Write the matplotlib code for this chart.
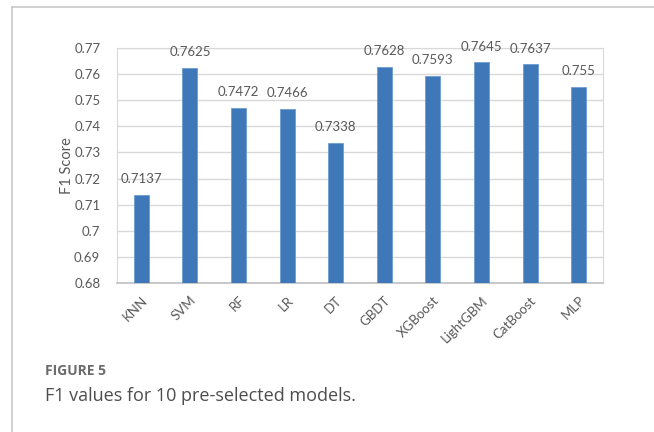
import matplotlib.pyplot as plt
from matplotlib.lines import Line2D
import numpy as np

models = ["KNN", "SVM", "RF", "LR", "DT", "GBDT", "XGBoost", "LightGBM", "CatBoost", "MLP"]
f1_scores = [0.7137, 0.7625, 0.7472, 0.7466, 0.7338, 0.7628, 0.7593, 0.7645, 0.7637, 0.755]
value_labels = ["0.7137", "0.7625", "0.7472", "0.7466", "0.7338", "0.7628", "0.7593", "0.7645", "0.7637", "0.755"]
y_ticks = [0.68, 0.69, 0.7, 0.71, 0.72, 0.73, 0.74, 0.75, 0.76, 0.77]
y_tick_labels = ["0.68", "0.69", "0.7", "0.71", "0.72", "0.73", "0.74", "0.75", "0.76", "0.77"]

plt.rcParams['font.family'] = ['Lato', 'DejaVu Sans']
text_grey = '#595959'

fig = plt.figure(figsize=(6.54, 4.32), dpi=100)
ax = fig.add_axes([117 / 654, 1 - 283 / 432, 486 / 654, 235 / 432])

x = np.arange(len(models))
ax.bar(x, f1_scores, width=0.31, color='#3f78b9', edgecolor='#6e9bd0',
       linewidth=0.6, zorder=3)

for xi, v, lab in zip(x, f1_scores, value_labels):
    ax.annotate(lab, (xi, v), xytext=(0, 7), textcoords='offset points',
                ha='center', va='bottom', fontsize=9.5, color=text_grey)

ax.set_xlim(-0.5, len(models) - 0.5)
ax.set_ylim(0.68, 0.77)
ax.set_yticks(y_ticks)
ax.set_yticklabels(y_tick_labels)
ax.set_xticks(x)
ax.set_xticklabels(models, rotation=45, ha='right', rotation_mode='anchor')
ax.tick_params(axis='both', length=0, labelsize=9.5, labelcolor=text_grey)
ax.tick_params(axis='y', pad=12)
ax.tick_params(axis='x', pad=8)

ax.yaxis.grid(True, color='#d9d9d9', linewidth=1.0, zorder=0)
ax.set_axisbelow(True)
for side in ['left', 'top', 'right']:
    ax.spines[side].set_color('#d9d9d9')
ax.spines['bottom'].set_color('#bfbfbf')
ax.spines['bottom'].set_linewidth(1.2)

ax.set_ylabel("F1 Score", fontsize=10.5, color=text_grey, labelpad=0)

# outer panel border (left and top edges)
fig.add_artist(Line2D([12 / 654, 12 / 654], [0, 1 - 7 / 432],
                      transform=fig.transFigure, color='#c8c8c8', linewidth=1.2))
fig.add_artist(Line2D([12 / 654, 1], [1 - 7 / 432, 1 - 7 / 432],
                      transform=fig.transFigure, color='#c8c8c8', linewidth=1.2))

fig.text(45 / 654, 1 - 371 / 432, "FIGURE 5", fontsize=10, fontweight='bold',
         color='#6b6b6b', va='center', ha='left', family=['Open Sans', 'DejaVu Sans'])
fig.text(45 / 654, 1 - 396 / 432, "F1 values for 10 pre-selected models.",
         fontsize=13, color='#4d4d4d', va='center', ha='left',
         family=['Open Sans', 'DejaVu Sans'])

fig.savefig("out.png", dpi=100, facecolor='white')
